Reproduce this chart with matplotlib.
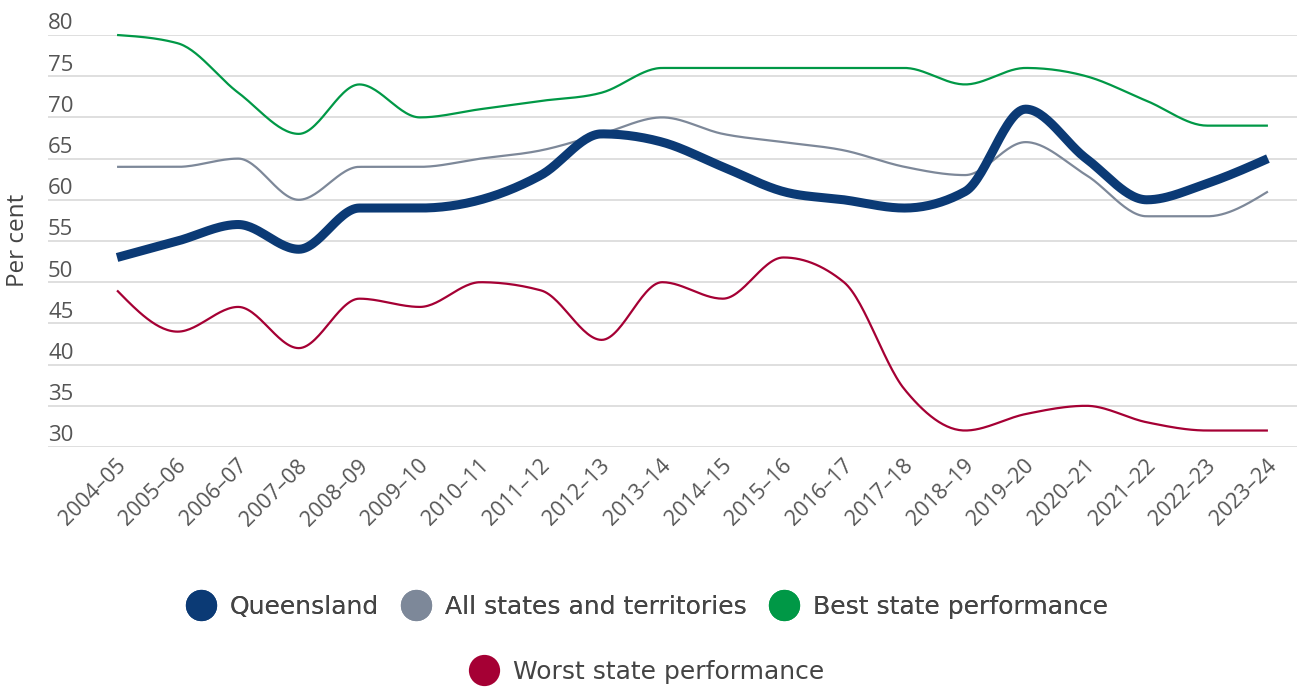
import numpy as np
import matplotlib
matplotlib.use('Agg')
import matplotlib.pyplot as plt
import matplotlib.transforms as mtransforms
from matplotlib.lines import Line2D

years = ['2004–05', '2005–06', '2006–07', '2007–08', '2008–09', '2009–10',
         '2010–11', '2011–12', '2012–13', '2013–14', '2014–15', '2015–16',
         '2016–17', '2017–18', '2018–19', '2019–20', '2020–21', '2021–22',
         '2022–23', '2023–24']
queensland = [53, 55, 57, 54, 59, 59, 60, 63, 68, 67, 64, 61, 60, 59, 61, 71, 65, 60, 62, 65]
all_states = [64, 64, 65, 60, 64, 64, 65, 66, 68, 70, 68, 67, 66, 64, 63, 67, 63, 58, 58, 61]
best_state = [80, 79, 73, 68, 74, 70, 71, 72, 73, 76, 76, 76, 76, 76, 74, 76, 75, 72, 69, 69]
worst_state = [49, 44, 47, 42, 48, 47, 50, 49, 43, 50, 48, 53, 50, 37, 32, 34, 35, 33, 32, 32]

series = [
    ('Queensland', queensland, '#0b3a75', 6.5, 4),
    ('All states and territories', all_states, '#7d8899', 1.6, 3),
    ('Best state performance', best_state, '#009846', 1.6, 2),
    ('Worst state performance', worst_state, '#a50034', 1.6, 2),
]


def monotone_curve(x, y, n=30):
    # monotone cubic (same idea as d3 curveMonotoneX), only for drawing
    x = np.asarray(x, float)
    y = np.asarray(y, float)
    h = np.diff(x)
    s = np.diff(y) / h
    t = np.zeros(len(x))
    for i in range(1, len(x) - 1):
        p = (s[i - 1] * h[i] + s[i] * h[i - 1]) / (h[i - 1] + h[i])
        t[i] = (np.sign(s[i - 1]) + np.sign(s[i])) * min(abs(s[i - 1]), abs(s[i]), 0.5 * abs(p))
    t[0] = (3 * s[0] - t[1]) / 2
    t[-1] = (3 * s[-1] - t[-2]) / 2
    xs, ys = [], []
    for i in range(len(x) - 1):
        u = np.linspace(0, 1, n, endpoint=False)
        h00 = 2 * u**3 - 3 * u**2 + 1
        h10 = u**3 - 2 * u**2 + u
        h01 = -2 * u**3 + 3 * u**2
        h11 = u**3 - u**2
        xs.append(x[i] + u * h[i])
        ys.append(h00 * y[i] + h10 * h[i] * t[i] + h01 * y[i + 1] + h11 * h[i] * t[i + 1])
    xs.append([x[-1]])
    ys.append([y[-1]])
    return np.concatenate(xs), np.concatenate(ys)


plt.rcParams['font.family'] = ['Open Sans', 'DejaVu Sans']

fig = plt.figure(figsize=(13.09, 6.87), dpi=100)
ax = fig.add_axes([48 / 1309, 1 - 447 / 687, (1297 - 48) / 1309, (447 - 35) / 687])

xpos = np.arange(len(years))
for name, vals, color, lw, z in series[::-1]:
    cx, cy = monotone_curve(xpos, vals)
    ax.plot(cx, cy, color=color, lw=lw, zorder=z, solid_capstyle='butt', clip_on=False)

ax.set_xlim(-1.14, len(years) - 1 + 0.48)
ax.set_ylim(30, 80)
yt = np.arange(30, 81, 5)
ax.set_yticks(yt)
ax.set_yticklabels([])
ax.tick_params(axis='y', length=0)
ax.grid(axis='y', color='#d9d9d9', lw=1.2)
ax.set_axisbelow(True)
for sp in ax.spines.values():
    sp.set_visible(False)
for v in yt:
    ax.annotate(str(v), (0, v), xycoords=('axes fraction', 'data'),
                xytext=(0, 0.5), textcoords='offset points',
                ha='left', va='bottom', fontsize=16, color='#555555')

ax.set_xticks(xpos)
ax.set_xticklabels(years, rotation=45, ha='right', rotation_mode='anchor',
                   fontsize=15.5, color='#555555')
ax.tick_params(axis='x', length=0, pad=6)
shift = mtransforms.ScaledTranslation(-2 / 100, 0, fig.dpi_scale_trans)
for lab in ax.get_xticklabels():
    lab.set_transform(lab.get_transform() + shift)

fig.text(18 / 1309, 1 - 240 / 687, 'Per cent', rotation=90, ha='center', va='center',
         fontsize=17.5, color='#444444')

handles = [Line2D([], [], ls='none', marker='o', markersize=22.5, color=c, markeredgewidth=0)
           for _, _, c, _, _ in series]
labels = [s[0] for s in series]
leg_font = {'family': 'DejaVu Sans', 'size': 18}
leg1 = fig.legend(handles[:3], labels[:3], loc='center', bbox_to_anchor=(0.494, 1 - 607 / 687),
                  ncol=3, frameon=False, prop=leg_font, handletextpad=0.55, columnspacing=0.9,
                  handlelength=1.2, labelcolor='#444444')
leg2 = fig.legend(handles[3:], labels[3:], loc='center', bbox_to_anchor=(0.494, 1 - 672 / 687),
                  ncol=1, frameon=False, prop=leg_font, handletextpad=0.55,
                  handlelength=1.2, labelcolor='#444444')
fig.add_artist(leg1)

fig.savefig('out.png', dpi=100)
